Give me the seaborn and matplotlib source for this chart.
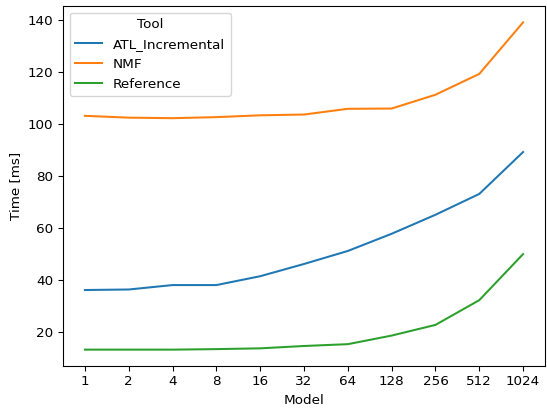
import pandas as pd
import matplotlib
matplotlib.use("Agg")
import matplotlib.pyplot as plt
import seaborn as sns

models = ["1", "2", "4", "8", "16", "32", "64", "128", "256", "512", "1024"]
atl_incremental = [36.2, 36.4, 38.1, 38.1, 41.5, 46.2, 51.2, 57.8, 65.1, 73.1, 89.2]
nmf = [103.1, 102.4, 102.2, 102.6, 103.3, 103.6, 105.8, 105.9, 111.2, 119.2, 139.0]
reference = [13.3, 13.3, 13.3, 13.5, 13.8, 14.7, 15.4, 18.7, 22.8, 32.3, 50.0]

df = pd.concat([
    pd.DataFrame({"Model": models, "Time": atl_incremental, "Tool": "ATL_Incremental"}),
    pd.DataFrame({"Model": models, "Time": nmf, "Tool": "NMF"}),
    pd.DataFrame({"Model": models, "Time": reference, "Tool": "Reference"}),
])

dpi = 97.5
fig, ax = plt.subplots(figsize=(547 / dpi, 411 / dpi), dpi=dpi)
fig.subplots_adjust(left=63 / 547, right=545 / 547, top=1 - 6 / 411, bottom=1 - 366 / 411)

sns.lineplot(data=df, x="Model", y="Time", hue="Tool", sort=False, ax=ax)
ax.set_xlabel("Model")
ax.set_ylabel("Time [ms]")
ax.set_yticks([20, 40, 60, 80, 100, 120, 140])

fig.savefig("out.png", dpi=dpi)
